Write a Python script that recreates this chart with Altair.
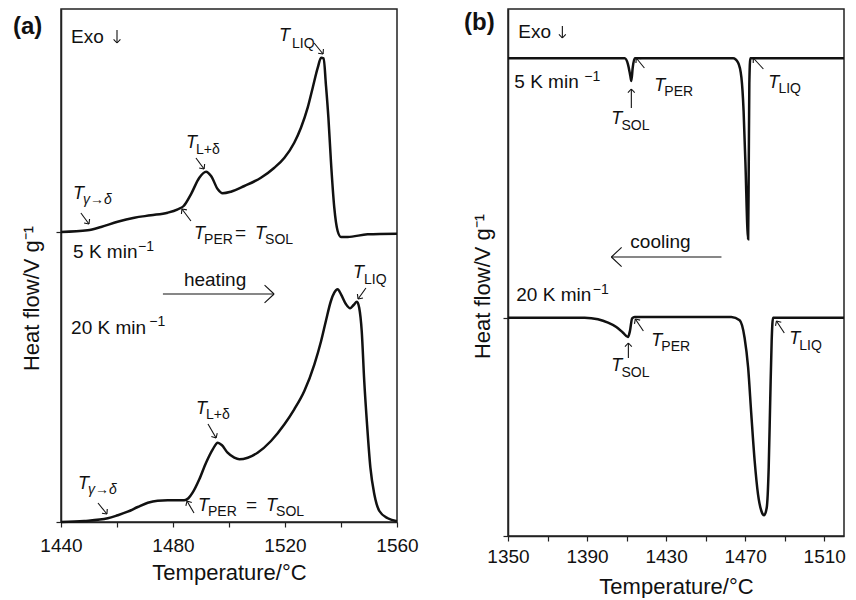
import math

import altair as alt
import pandas as pd

FONT = "Liberation Sans"
INK = "#111111"
FRAME = "#222222"

# ---------------------------------------------------------------------------
# (a) heating traces: temperature / degC and heat-flow signal (arbitrary offset units)
# ---------------------------------------------------------------------------
temp_heat_5 = [1440.0, 1449.5, 1454.3, 1460.2, 1466.2, 1472.1, 1478.1, 1481.7, 1483.8,
               1486.4, 1489.4, 1491.8, 1493.6, 1496.0, 1497.7, 1500.7, 1505.5, 1511.4,
               1516.2, 1519.8, 1523.3, 1525.7, 1528.1, 1529.9, 1531.7, 1532.9, 1533.8,
               1534.6, 1535.5, 1536.4, 1537.6, 1538.8, 1540.0, 1542.4, 1549.5, 1560.0]
flow_heat_5 = [290.0, 291.7, 295.0, 300.3, 304.3, 306.7, 309.3, 312.7, 316.0,
               327.7, 344.3, 350.3, 346.0, 332.7, 328.7, 330.3, 336.0, 344.3,
               354.3, 364.3, 379.3, 394.3, 414.3, 434.3, 454.3, 464.3, 463.7,
               437.7, 404.3, 361.0, 314.3, 291.0, 285.0, 285.0, 287.7, 288.3]

temp_heat_20 = [1440.0, 1448.3, 1456.7, 1460.2, 1463.8, 1467.4, 1471.0, 1474.5, 1478.1,
                1484.0, 1485.5, 1487.0, 1489.4, 1491.8, 1494.2, 1496.0, 1497.4, 1499.5,
                1501.9, 1503.7, 1506.7, 1510.2, 1515.0, 1519.8, 1523.3, 1526.9, 1530.5,
                1532.9, 1534.6, 1536.4, 1537.6, 1538.8, 1540.0, 1541.8, 1543.3, 1544.5,
                1545.7, 1546.5, 1547.4, 1548.3, 1549.3, 1550.5, 1551.9, 1553.7, 1556.7,
                1560.0]
flow_heat_20 = [0.0, 1.0, 3.7, 6.7, 10.3, 15.0, 19.3, 21.3, 21.7,
                21.7, 23.7, 29.3, 42.7, 59.3, 72.7, 79.3, 77.0, 69.3,
                64.3, 62.7, 64.3, 69.3, 81.0, 97.7, 112.7, 131.0, 157.7,
                181.0, 201.0, 221.0, 229.3, 232.7, 227.7, 217.7, 213.7, 217.0,
                220.3, 214.3, 191.0, 141.0, 97.7, 54.3, 27.7, 11.0, 3.7,
                0.7]

# ---------------------------------------------------------------------------
# (b) cooling traces
# ---------------------------------------------------------------------------
temp_cool_5 = [1350.0, 1409.0, 1410.7, 1411.9, 1412.4, 1413.1, 1414.1, 1463.9, 1466.4,
               1468.1, 1469.2, 1470.2, 1471.1, 1471.5, 1471.8, 1472.1, 1472.6, 1520.0]
flow_cool_5 = [477.7, 477.7, 471.7, 460.0, 455.0, 468.3, 477.7, 477.7, 473.3,
               458.3, 425.0, 368.3, 308.3, 296.7, 368.3, 451.7, 477.7, 477.7]

temp_cool_20 = [1350.0, 1388.8, 1395.5, 1400.6, 1404.8, 1408.2, 1410.7, 1411.7, 1412.8,
                1414.1, 1463.0, 1467.2, 1469.7, 1471.5, 1473.1, 1474.8, 1476.5, 1478.2,
                1479.6, 1480.9, 1481.9, 1482.7, 1483.4, 1484.1, 1520.0]
flow_cool_20 = [218.3, 218.3, 216.7, 213.3, 209.0, 203.3, 199.0, 205.0, 217.7,
                219.0, 219.0, 215.7, 198.3, 168.3, 121.7, 75.0, 41.7, 25.0,
                20.7, 28.3, 68.3, 138.3, 195.0, 218.3, 218.3]

# y-axis ticks sit on the lower baseline and on the zero line
baseline_ticks_a = [0, 290.0]
baseline_ticks_b = [0, 218.3]

# ---------------------------------------------------------------------------
# Annotations: (temperature, heat flow, text, style)
# ---------------------------------------------------------------------------
labels_a = [
    (1443.6, 479, "Exo", "plain"),
    (1517.9, 481, "T", "T"), (1522.5, 474, "LIQ", "sub"),
    (1484.6, 374, "T", "T"), (1488.2, 368, "L+δ", "sub"),
    (1444.3, 323, "T", "T"), (1447.9, 318, "γ→δ", "subit"),
    (1487.5, 283, "T", "T"), (1491.1, 278, "PER", "sub"), (1502.1, 283, "=", "plain"),
    (1509.3, 283, "T", "T"), (1512.9, 278, "SOL", "sub"),
    (1444.3, 264, "5 K min", "plain"), (1467.5, 271, "−1", "sup"),
    (1483.9, 236, "heating", "plain"),
    (1544.3, 244, "T", "T"), (1548.2, 238, "LIQ", "sub"),
    (1443.6, 188, "20 K min", "plain"), (1471.5, 196, "−1", "sup"),
    (1488.2, 108, "T", "T"), (1491.8, 103, "L+δ", "sub"),
    (1446.1, 33, "T", "T"), (1449.6, 28, "γ→δ", "subit"),
    (1488.9, 11, "T", "T"), (1492.5, 6, "PER", "sub"), (1506.1, 11, "=", "plain"),
    (1513.2, 11, "T", "T"), (1516.8, 6, "SOL", "sub"),
]
labels_b = [
    (1355.2, 498, "Exo", "plain"),
    (1353.2, 448, "5 K min", "plain"), (1388.6, 455, "−1", "sup"),
    (1424.0, 445, "T", "T"), (1429.1, 440, "PER", "sub"),
    (1402.3, 412, "T", "T"), (1407.4, 406, "SOL", "sub"),
    (1481.7, 448, "T", "T"), (1486.8, 443, "LIQ", "sub"),
    (1411.9, 288, "cooling", "plain"),
    (1354.2, 235, "20 K min", "plain"), (1392.9, 242, "−1", "sup"),
    (1422.5, 190, "T", "T"), (1427.6, 185, "PER", "sub"),
    (1402.3, 165, "T", "T"), (1407.4, 159, "SOL", "sub"),
    (1492.3, 192, "T", "T"), (1497.4, 186, "LIQ", "sub"),
]

# pointer arrows: tail -> tip, plus arrow-head length in px
arrows_a = [
    ((1460.0, 492), (1460.0, 479), 5),
    ((1530.4, 479), (1533.6, 468), 5),
    ((1488.2, 364), (1491.1, 353), 5),
    ((1447.1, 309), (1450.0, 298), 5),
    ((1486.4, 301), (1483.2, 313), 5),
    ((1548.9, 234), (1546.1, 223), 5),
    ((1492.5, 98), (1495.4, 84), 5),
    ((1453.2, 19), (1456.4, 8), 5),
    ((1487.5, 9), (1485.0, 21), 5),
    ((1476.4, 228), (1516.1, 228), 13),
]
arrows_b = [
    ((1377.5, 510), (1377.5, 498), 5),
    ((1419.0, 468), (1414.9, 478), 5),
    ((1412.4, 428), (1412.4, 447), 5),
    ((1479.2, 467), (1474.1, 478), 5),
    ((1418.5, 205), (1414.4, 217), 5),
    ((1410.9, 178), (1410.9, 193), 5),
    ((1489.8, 203), (1485.8, 215), 5),
    ((1458.0, 279), (1402.3, 279), 14),
]


def arrow_segments(arrows, px_per_x, px_per_y, spread=0.75):
    """Shaft plus two open-head strokes for each arrow, in data units."""
    rows = []
    for (x0, y0), (x1, y1), head in arrows:
        dx, dy = (x1 - x0) * px_per_x, (y1 - y0) * px_per_y
        length = math.hypot(dx, dy)
        ux, uy = -dx / length, -dy / length
        rows.append({"x": x0, "y": y0, "x2": x1, "y2": y1})
        for a in (spread, -spread):
            wx = (ux * math.cos(a) - uy * math.sin(a)) * head
            wy = (ux * math.sin(a) + uy * math.cos(a)) * head
            rows.append({"x": x1, "y": y1,
                         "x2": x1 + wx / px_per_x, "y2": y1 + wy / px_per_y})
    return pd.DataFrame(rows)


TEXT_STYLES = {
    "plain": dict(fontSize=19),
    "T": dict(fontSize=18, fontStyle="italic"),
    "sub": dict(fontSize=14),
    "subit": dict(fontSize=14, fontStyle="italic"),
    "sup": dict(fontSize=14),
}


def panel(traces, labels, arrows, letter, letter_xy, x_domain, x_label_base,
          y_domain, y_ticks, width, height, y_title_xy, x_title_y, label_pad):
    px_per_x = width / (x_domain[1] - x_domain[0])
    px_per_y = height / (y_domain[1] - y_domain[0])

    curves = pd.concat(
        [pd.DataFrame({"T": t, "hf": h, "run": name}) for name, t, h in traces],
        ignore_index=True,
    )
    x_axis = alt.Axis(
        values=list(range(x_domain[0], x_domain[1] + 1, 20)),
        format="d",
        labelExpr=f"(datum.value - {x_label_base}) % 40 == 0 ? datum.label : ''",
        labelFlush=False,
        tickSize=5, labelPadding=label_pad, grid=False,
        labelFont=FONT, labelFontSize=19, labelColor=INK,
        title="Temperature/°C", titleFont=FONT, titleFontSize=22,
        titleFontWeight="normal", titleColor=INK,
        titleBaseline="alphabetic", titleY=x_title_y,
        domainColor=FRAME, domainWidth=1.5, tickColor=FRAME, tickWidth=1.2,
    )
    y_axis = alt.Axis(
        values=y_ticks, labels=False, tickSize=5, grid=False,
        title="Heat flow/V g⁻¹", titleFont=FONT, titleFontSize=22,
        titleFontWeight="normal", titleColor=INK,
        titleAngle=270, titleAlign="center", titleBaseline="alphabetic",
        titleX=y_title_xy[0], titleY=y_title_xy[1],
        domainColor=FRAME, domainWidth=1.5, tickColor=FRAME, tickWidth=1.2,
    )
    x_scale = alt.Scale(domain=list(x_domain), nice=False, zero=False)
    y_scale = alt.Scale(domain=list(y_domain), nice=False, zero=False)

    lines = alt.Chart(curves).mark_line(
        color=INK, strokeWidth=2.5, interpolate="monotone"
    ).encode(
        x=alt.X("T:Q", scale=x_scale, axis=x_axis),
        y=alt.Y("hf:Q", scale=y_scale, axis=y_axis),
        detail="run:N",
    )

    pointer = alt.Chart(arrow_segments(arrows, px_per_x, px_per_y)).mark_rule(
        color=INK, strokeWidth=1.1
    ).encode(x="x:Q", y="y:Q", x2="x2:Q", y2="y2:Q")

    layers = [lines, pointer]
    text_df = pd.DataFrame(labels, columns=["T", "hf", "text", "style"])
    for style, props in TEXT_STYLES.items():
        part = text_df[text_df["style"] == style]
        if part.empty:
            continue
        layers.append(
            alt.Chart(part).mark_text(
                align="left", baseline="alphabetic", font=FONT, color=INK, **props
            ).encode(x="T:Q", y="hf:Q", text="text:N")
        )

    layers.append(
        alt.Chart(pd.DataFrame({"tag": [letter]})).mark_text(
            align="left", baseline="alphabetic", font=FONT, fontSize=24,
            fontWeight="bold", color=INK,
        ).encode(x=alt.value(letter_xy[0]), y=alt.value(letter_xy[1]), text="tag:N")
    )
    return alt.layer(*layers).properties(width=width, height=height)


heating = panel(
    traces=[("5 K/min", temp_heat_5, flow_heat_5), ("20 K/min", temp_heat_20, flow_heat_20)],
    labels=labels_a, arrows=arrows_a, letter="(a)", letter_xy=(-48, 25),
    x_domain=(1440, 1560), x_label_base=1440,
    y_domain=(0, 513), y_ticks=baseline_ticks_a, width=336, height=513,
    y_title_xy=(-23, 289), x_title_y=57, label_pad=9,
)
cooling = panel(
    traces=[("5 K/min", temp_cool_5, flow_cool_5), ("20 K/min", temp_cool_20, flow_cool_20)],
    labels=labels_b, arrows=arrows_b, letter="(b)", letter_xy=(-44, 21),
    x_domain=(1350, 1520), x_label_base=1350,
    y_domain=(0, 527), y_ticks=baseline_ticks_b, width=336, height=527,
    y_title_xy=(-19, 277), x_title_y=57, label_pad=6,
)

# plot areas are placed edge-to-edge with a fixed gap between the frames
chart = alt.hconcat(heating, cooling, spacing=111, bounds="flush").properties(
    padding={"left": 12, "top": 8, "right": 0, "bottom": 0},
    background="white",
).configure_view(stroke=FRAME, strokeWidth=1.5)

chart.save("out.html", embed_options={"renderer": "svg", "actions": False})
